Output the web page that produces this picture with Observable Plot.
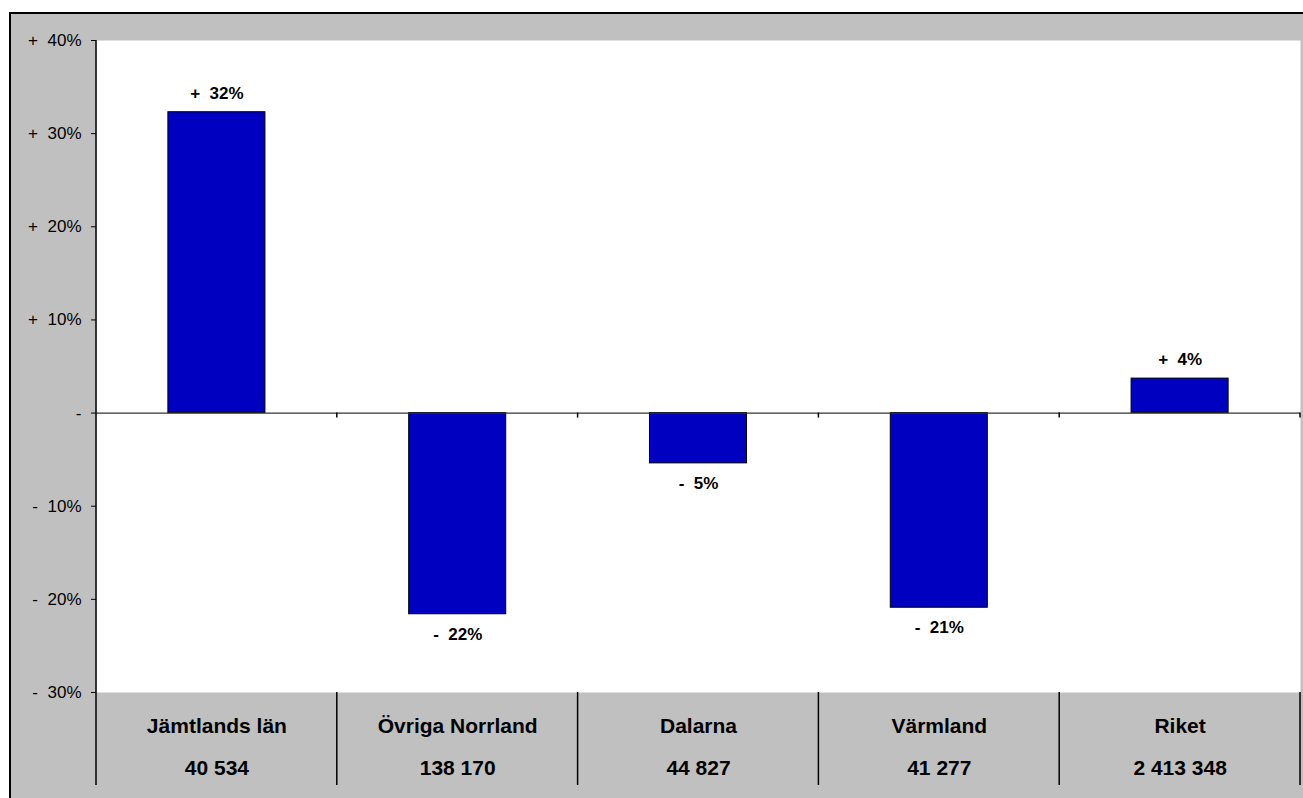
<!DOCTYPE html>
<html>
<head>
<meta charset="utf-8">
<script src="https://cdn.jsdelivr.net/npm/d3@7"></script>
<script src="https://cdn.jsdelivr.net/npm/@observablehq/plot@0.6"></script>
<style>
  html, body { margin: 0; padding: 0; background: #fff; overflow: hidden; }
  #frame {
    position: absolute; left: 9px; top: 12px;
    border-left: 2px solid #000; border-top: 2px solid #000;
    background: #C0C0C0; width: 1292px; height: 800px;
  }
</style>
</head>
<body>
<div id="frame"></div>
<script>
// ---- data ----
const regions = ["Jämtlands län", "Övriga Norrland", "Dalarna", "Värmland", "Riket"];
const population = ["40 534", "138 170", "44 827", "41 277", "2 413 348"];
const change = [32.3, -21.6, -5.4, -20.9, 3.7];
const yTicks = [-30, -20, -10, 0, 10, 20, 30, 40];

const data = regions.map((r, i) => ({region: r, change: change[i], population: population[i]}));
const fmt = v => v === 0 ? "-" : (v > 0 ? "+" : "-") + "\u00a0\u00a0" + Math.abs(v) + "%";
const font = "Arial, 'Liberation Sans', sans-serif";

const chart = Plot.plot({
  width: 1292,
  height: 784,
  marginLeft: 85,
  marginRight: 3,
  marginTop: 26,
  marginBottom: 106,
  style: {background: "transparent", color: "#000", fontFamily: font, fontSize: "17px", overflow: "visible"},
  x: {domain: regions, paddingInner: 0.597, paddingOuter: 0.2985, round: false, label: null},
  y: {domain: [-30, 40], label: null},
  marks: [
    Plot.frame({fill: "white", stroke: "none"}),
    Plot.axisY(yTicks, {tickFormat: fmt, tickSize: 5, tickPadding: 10, fontSize: 17, label: null}),
    Plot.axisX({tickSize: 0, tickPadding: 26, fontSize: 21, fontWeight: "bold", label: null}),
    Plot.axisX({tickSize: 0, tickPadding: 68, fontSize: 21, fontWeight: "bold", label: null,
                tickFormat: d => population[regions.indexOf(d)]}),
    Plot.barY(data, {x: "region", y: "change", fill: "#0000C0", stroke: "#000", strokeWidth: 1}),
    Plot.ruleY([0], {stroke: "#333", strokeWidth: 1.2}),
    Plot.text(data.filter(d => d.change >= 0), {x: "region", y: "change", text: d => fmt(Math.round(d.change)),
      dy: -19, fontWeight: "bold", fontSize: 17}),
    Plot.text(data.filter(d => d.change < 0), {x: "region", y: "change", text: d => fmt(Math.round(d.change)),
      dy: 20, fontWeight: "bold", fontSize: 17})
  ]
});

document.getElementById("frame").appendChild(chart);

// extra Excel-style lines drawn from Plot's own scales
const svg = d3.select(chart);
const sx = chart.scale("x");
const sy = chart.scale("y");
const yBottom = sy.apply(-30);
const yBandEnd = yBottom + 93;
const yZero = sy.apply(0);
const g = svg.append("g").attr("stroke", "#000").attr("stroke-width", 1.5);
const xLeft = sx.range[0];
g.append("line").attr("x1", xLeft).attr("x2", xLeft).attr("y1", sy.apply(40)).attr("y2", yBandEnd);
regions.forEach(r => {
  const xr = sx.apply(r) + sx.bandwidth / 2 + sx.step / 2;
  g.append("line").attr("x1", xr).attr("x2", xr).attr("y1", yBottom).attr("y2", yBandEnd);
  g.append("line").attr("x1", xr).attr("x2", xr).attr("y1", yZero).attr("y2", yZero + 5);
});
svg.selectAll("[aria-label='x-axis tick label'] text").attr("font-weight", "bold");
</script>
</body>
</html>
